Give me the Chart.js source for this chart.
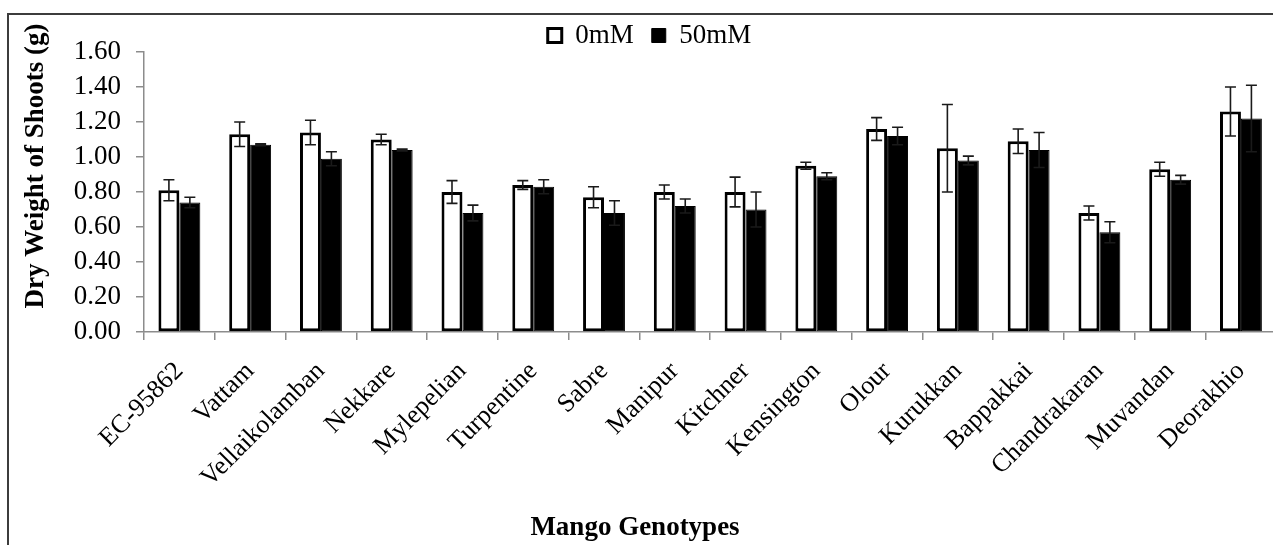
<!DOCTYPE html>
<html>
<head>
<meta charset="utf-8">
<script src="https://cdn.jsdelivr.net/npm/chart.js@4/dist/chart.umd.min.js"></script>
<style>
  html, body { margin: 0; padding: 0; background: #fff; overflow: hidden; }
  #wrap { position: relative; width: 1279px; height: 545px; }
</style>
</head>
<body>
<div id="wrap"><canvas id="chart"></canvas></div>
<script>
// Mango genotypes on the category axis
const genotypes = ['EC-95862', 'Vattam', 'Vellaikolamban', 'Nekkare', 'Mylepelian', 'Turpentine',
  'Sabre', 'Manipur', 'Kitchner', 'Kensington', 'Olour', 'Kurukkan', 'Bappakkai',
  'Chandrakaran', 'Muvandan', 'Deorakhio'];

const treatments = ['0mM', '50mM'];

// Mean shoot dry weight (g) and its error, control (0 mM NaCl)
const shoot0mM = [0.81, 1.13, 1.14, 1.10, 0.80, 0.84, 0.77, 0.80, 0.80, 0.95, 1.16, 1.05, 1.09, 0.68, 0.93, 1.26];
const err0mM   = [0.06, 0.07, 0.07, 0.03, 0.065, 0.025, 0.06, 0.04, 0.085, 0.02, 0.065, 0.25, 0.07, 0.04, 0.04, 0.14];

// Mean shoot dry weight (g) and its error, 50 mM NaCl
const shoot50mM = [0.74, 1.07, 0.99, 1.04, 0.68, 0.83, 0.68, 0.72, 0.70, 0.89, 1.12, 0.98, 1.04, 0.57, 0.87, 1.22];
const err50mM   = [0.03, 0.005, 0.04, 0.005, 0.045, 0.04, 0.07, 0.04, 0.10, 0.02, 0.05, 0.025, 0.10, 0.06, 0.025, 0.19];

const yTickValues = [0, 0.2, 0.4, 0.6, 0.8, 1.0, 1.2, 1.4, 1.6];
const xTitle = 'Mango Genotypes';
const yTitle = 'Dry Weight of Shoots (g)';

const SERIF = '"Liberation Serif", "Times New Roman", serif';
const AXIS_GREY = '#8c8c8c';
const LEFT_PAD = 20;
const TOP_PAD = 4;

// keep the legend band short so the plot starts right under it
const legendBand = {
  id: 'legendBand',
  beforeInit(chart) {
    const legend = chart.legend;
    if (!legend) return;
    const fit = legend.fit;
    legend.fit = function () {
      fit.call(this);
      this.height = 52 - TOP_PAD;
    };
  }
};

// outer frame of the chart (left and top edges)
const frame = {
  id: 'frame',
  beforeDraw(chart) {
    const ctx = chart.ctx;
    ctx.save();
    ctx.strokeStyle = '#3c3c3c';
    ctx.lineWidth = 2;
    ctx.beginPath();
    ctx.moveTo(8, chart.height + 2);
    ctx.lineTo(8, 14);
    ctx.lineTo(chart.width + 2, 14);
    ctx.stroke();
    ctx.restore();
  }
};

// +/- error bars with caps on every bar
const errorBars = {
  id: 'errorBars',
  afterDatasetsDraw(chart) {
    const ctx = chart.ctx;
    const y = chart.scales.y;
    chart.data.datasets.forEach((ds, i) => {
      const meta = chart.getDatasetMeta(i);
      meta.data.forEach((bar, j) => {
        const v = ds.data[j], e = ds.errors[j];
        const top = y.getPixelForValue(v + e);
        const bot = y.getPixelForValue(v - e);
        const x = bar.x, cap = 5.5;
        ctx.save();
        ctx.strokeStyle = '#1a1a1a';
        ctx.lineWidth = 1.6;
        ctx.beginPath();
        ctx.moveTo(x, top); ctx.lineTo(x, bot);
        ctx.moveTo(x - cap, top); ctx.lineTo(x + cap, top);
        ctx.moveTo(x - cap, bot); ctx.lineTo(x + cap, bot);
        ctx.stroke();
        ctx.restore();
      });
    });
  }
};

// axis titles
const axisTitles = {
  id: 'axisTitles',
  afterDraw(chart) {
    const ctx = chart.ctx;
    ctx.save();
    ctx.fillStyle = '#000';
    ctx.font = 'bold 27px ' + SERIF;
    ctx.textAlign = 'center';
    ctx.textBaseline = 'middle';
    ctx.fillText(xTitle, 635, 528);
    ctx.translate(36, 166);
    ctx.rotate(-Math.PI / 2);
    ctx.fillText(yTitle, 0, 0);
    ctx.restore();
  }
};

new Chart(document.getElementById('chart'), {
  type: 'bar',
  data: {
    labels: genotypes,
    datasets: [
      {
        label: treatments[0],
        data: shoot0mM,
        errors: err0mM,
        backgroundColor: '#ffffff',
        borderColor: '#000000',
        borderWidth: 3,
        borderSkipped: false
      },
      {
        label: treatments[1],
        data: shoot50mM,
        errors: err50mM,
        backgroundColor: '#000000',
        borderColor: '#000000',
        borderWidth: 1,
        borderSkipped: false
      }
    ]
  },
  options: {
    responsive: true,
    maintainAspectRatio: false,
    animation: false,
    layout: { padding: { top: TOP_PAD, left: LEFT_PAD, right: 0, bottom: 0 } },
    datasets: { bar: { categoryPercentage: 0.592, barPercentage: 1.0 } },
    plugins: {
      tooltip: { enabled: false },
      legend: {
        position: 'top',
        labels: {
          color: '#000',
          font: { family: SERIF, size: 27 },
          boxWidth: 14,
          boxHeight: 14,
          padding: 18
        }
      }
    },
    scales: {
      x: {
        grid: { offset: true, drawOnChartArea: false, drawTicks: true, tickLength: 8, color: AXIS_GREY, lineWidth: 1.5 },
        border: { color: AXIS_GREY, width: 1.5 },
        ticks: {
          color: '#000',
          font: { family: SERIF, size: 26 },
          autoSkip: false,
          maxRotation: 45,
          minRotation: 45,
          padding: 16
        },
        afterFit(s) { s.height = 213; }
      },
      y: {
        min: 0,
        max: 1.6,
        afterBuildTicks(s) { s.ticks = yTickValues.map(v => ({ value: v })); },
        grid: { drawOnChartArea: false, drawTicks: true, tickLength: 8, color: AXIS_GREY, lineWidth: 1.5 },
        border: { color: AXIS_GREY, width: 1.5 },
        ticks: {
          color: '#000',
          font: { family: SERIF, size: 27 },
          autoSkip: false,
          padding: 15,
          callback: v => v.toFixed(2)
        },
        afterFit(s) { s.width = 144 - LEFT_PAD; }
      }
    }
  },
  plugins: [legendBand, frame, errorBars, axisTitles]
});
</script>
</body>
</html>
